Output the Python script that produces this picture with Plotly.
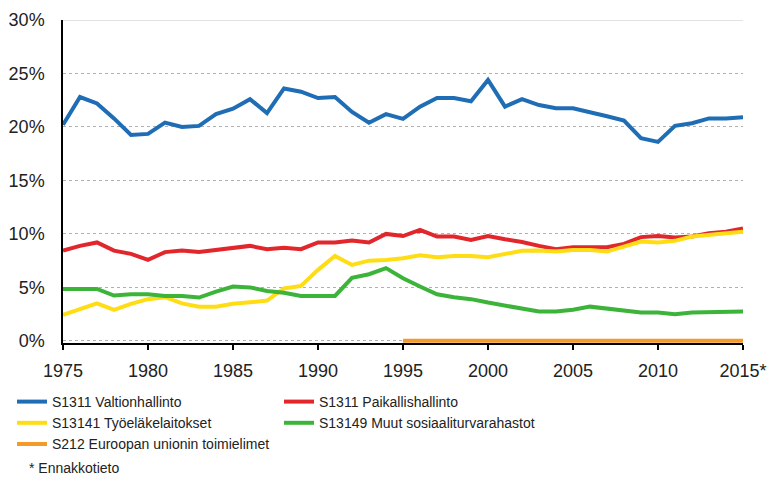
import plotly.graph_objects as go

years = list(range(1975, 2016))
x_ticks = [1975, 1980, 1985, 1990, 1995, 2000, 2005, 2010, 2015]
x_ticktext = ["1975", "1980", "1985", "1990", "1995", "2000", "2005", "2010", "2015*"]
y_ticks = [0, 5, 10, 15, 20, 25, 30]
y_ticktext = ["0%", "5%", "10%", "15%", "20%", "25%", "30%"]

valtio = [20.2, 22.8, 22.2, 20.8, 19.25, 19.35, 20.4, 20.0, 20.1, 21.2, 21.7, 22.6, 21.3, 23.6,
          23.3, 22.7, 22.8, 21.4, 20.4, 21.2, 20.75, 21.9, 22.7, 22.7, 22.4, 24.4, 21.9, 22.6,
          22.05, 21.75, 21.75, 21.4, 21.0, 20.6, 18.95, 18.6, 20.1, 20.35, 20.8, 20.8, 20.9]
paikallis = [8.44, 8.88, 9.2, 8.44, 8.13, 7.57, 8.3, 8.44, 8.3, 8.5, 8.75, 8.88, 8.57, 8.7,
             8.57, 9.2, 9.2, 9.38, 9.2, 10.0, 9.8, 10.37, 9.75, 9.75, 9.44, 9.8, 9.5, 9.25,
             8.88, 8.57, 8.75, 8.75, 8.75, 9.07, 9.7, 9.8, 9.66, 9.75, 10.06, 10.2, 10.5]
tyoelake = [2.43, 2.96, 3.5, 2.9, 3.46, 3.9, 4.08, 3.5, 3.2, 3.2, 3.46, 3.6, 3.77, 4.9,
            5.14, 6.64, 7.94, 7.1, 7.5, 7.57, 7.73, 8.0, 7.82, 7.94, 7.94, 7.82, 8.13, 8.42,
            8.44, 8.35, 8.5, 8.5, 8.35, 8.8, 9.28, 9.19, 9.35, 9.75, 9.9, 10.06, 10.2]
muut = [4.86, 4.86, 4.86, 4.24, 4.36, 4.36, 4.2, 4.2, 4.05, 4.6, 5.08, 5.0, 4.67, 4.5,
        4.2, 4.2, 4.2, 5.9, 6.23, 6.8, 5.86, 5.08, 4.36, 4.08, 3.9, 3.58, 3.27, 3.0,
        2.74, 2.74, 2.9, 3.2, 3.0, 2.8, 2.65, 2.65, 2.5, 2.65, 2.68, 2.74, 2.74]
eu_years = list(range(1995, 2016))
eu = [0.0] * len(eu_years)

series = [
    ("S1311 Valtionhallinto", years, valtio, "#1f6db5"),
    ("S1311 Paikallishallinto", years, paikallis, "#e1262c"),
    ("S13141 Työeläkelaitokset", years, tyoelake, "#ffdd15"),
    ("S13149 Muut sosiaaliturvarahastot", years, muut, "#3cb43a"),
    ("S212 Euroopan unionin toimielimet", eu_years, eu, "#f39a2b"),
]

FONT = "Liberation Sans, Arial, sans-serif"
TXT = "#222222"

fig = go.Figure()
for name, xs, ys, color in series:
    fig.add_trace(go.Scatter(x=xs, y=ys, name=name, mode="lines",
                             line=dict(color=color, width=4), cliponaxis=False))

fig.add_shape(type="line", xref="paper", yref="y", x0=0, x1=1, y0=30, y1=30,
              line=dict(color="#d9d9d9", width=1.5), layer="below")

fig.update_layout(
    width=772, height=479,
    margin=dict(l=63, r=29, t=20, b=136, autoexpand=False),
    paper_bgcolor="white", plot_bgcolor="white",
    font=dict(family=FONT, size=18, color=TXT),
    showlegend=True,
    legend=dict(orientation="h", xref="container", yref="container",
                x=12 / 772, xanchor="left", y=1 - 386 / 479, yanchor="top",
                entrywidth=222, entrywidthmode="pixels",
                font=dict(family=FONT, size=14, color=TXT),
                itemwidth=30, tracegroupgap=0, bgcolor="rgba(0,0,0,0)"),
    annotations=[dict(text="* Ennakkotieto", xref="paper", yref="paper",
                      x=(27 - 63) / 680, y=(343 - 468) / 323, xanchor="left", yanchor="middle",
                      showarrow=False,
                      font=dict(family=FONT, size=14, color=TXT))],
)
fig.update_xaxes(range=[1975, 2015], tickvals=x_ticks, ticktext=x_ticktext,
                 showgrid=False, showline=True, linecolor="black", linewidth=1.5,
                 ticks="outside", ticklen=5, tickcolor="black", tickwidth=1.5,
                 zeroline=False, tickfont=dict(size=18), ticklabelstandoff=6,
                 layer="below traces")
fig.update_yaxes(range=[-0.2, 30], tickvals=y_ticks, ticktext=y_ticktext,
                 showgrid=True, gridcolor="#b0b0b0", griddash="dot", gridwidth=1,
                 showline=True, linecolor="black", linewidth=1.5,
                 ticks="", zeroline=False, tickfont=dict(size=18), ticklabelstandoff=13,
                 layer="below traces")

fig.write_html("out.html", config={"displayModeBar": False},
               post_script="document.body.style.margin='0';document.body.style.padding='0';")
